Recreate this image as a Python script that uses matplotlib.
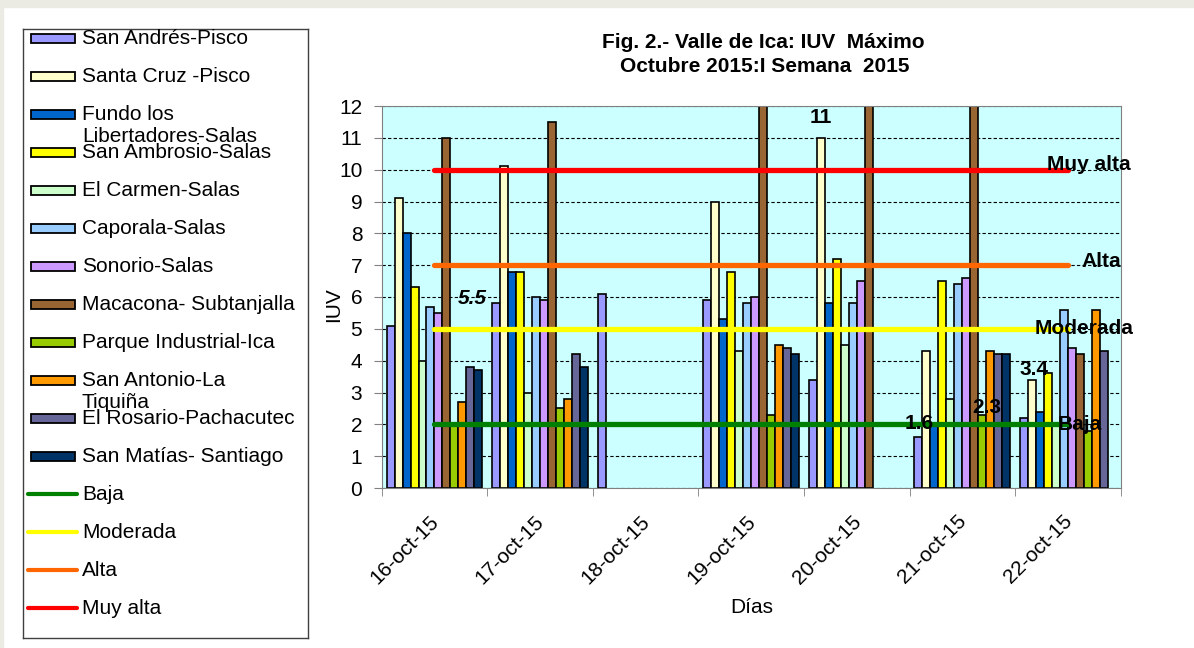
import numpy as np
import matplotlib.pyplot as plt
from matplotlib.patches import Rectangle
from matplotlib.transforms import ScaledTranslation

nan = np.nan

dias = ['16-oct-15', '17-oct-15', '18-oct-15', '19-oct-15', '20-oct-15', '21-oct-15', '22-oct-15']

estaciones = ['San Andrés-Pisco', 'Santa Cruz -Pisco', 'Fundo los\nLibertadores-Salas',
              'San Ambrosio-Salas', 'El Carmen-Salas', 'Caporala-Salas', 'Sonorio-Salas',
              'Macacona- Subtanjalla', 'Parque Industrial-Ica', 'San Antonio-La\nTiquiña',
              'El Rosario-Pachacutec', 'San Matías- Santiago']

san_andres = [5.1, 5.8, 6.1, 5.9, 3.4, 1.6, 2.2]
santa_cruz = [9.1, 10.1, nan, 9.0, 11.0, 4.3, 3.4]
fundo = [8.0, 6.8, nan, 5.3, 5.8, 2.0, 2.4]
san_ambrosio = [6.3, 6.8, nan, 6.8, 7.2, 6.5, 3.6]
el_carmen = [4.0, 3.0, nan, 4.3, 4.5, 2.8, 2.0]
caporala = [5.7, 6.0, nan, 5.8, 5.8, 6.4, 5.6]
sonorio = [5.5, 5.9, nan, 6.0, 6.5, 6.6, 4.4]
macacona = [11.0, 11.5, nan, 13.0, 13.0, 13.0, 4.2]
parque = [2.0, 2.5, nan, 2.3, nan, 2.3, 1.8]
san_antonio = [2.7, 2.8, nan, 4.5, nan, 4.3, 5.6]
el_rosario = [3.8, 4.2, nan, 4.4, nan, 4.2, 4.3]
san_matias = [3.7, 3.8, nan, 4.2, nan, 4.2, nan]

series = [san_andres, santa_cruz, fundo, san_ambrosio, el_carmen, caporala,
          sonorio, macacona, parque, san_antonio, el_rosario, san_matias]
colores = ['#9999FF', '#FFFFCC', '#0066CC', '#FFFF00', '#CCFFCC', '#99CCFF',
           '#CC99FF', '#996633', '#99CC00', '#FF9900', '#666699', '#003366']

# umbrales IUV
niveles = ['Baja', 'Moderada', 'Alta', 'Muy alta']
baja = [2, 2, 2, 2, 2, 2, 2]
moderada = [5, 5, 5, 5, 5, 5, 5]
alta = [7, 7, 7, 7, 7, 7, 7]
muy_alta = [10, 10, 10, 10, 10, 10, 10]
lineas = [baja, moderada, alta, muy_alta]
colores_lin = ['#008000', '#FFFF00', '#FF6600', '#FF0000']
# desplazamiento de la etiqueta respecto al final de la linea (px)
off_lin = [(-10, 0), (-33, 0), (14, 4), (-21, 5)]

# etiquetas de datos: (serie, dia, texto, dx, dy, estilo)
etiquetas = [(6, 0, '5.5', 34, 14, 'italic'), (1, 4, '11', 0, 20, 'normal'),
             (0, 5, '1.6', 1, 14, 'normal'), (8, 5, '2.3', 4, 7, 'normal'),
             (1, 6, '3.4', 2, 10, 'normal')]

plt.rcParams['font.family'] = ['Liberation Sans', 'DejaVu Sans']

W, H = 1194, 648
fig = plt.figure(figsize=(W / 100, H / 100), dpi=100)
fig.patch.set_facecolor('white')
fig.add_artist(Rectangle((0, 1 - 7 / H), 1, 7 / H, transform=fig.transFigure,
                         color='#EBEBE3', zorder=0))
fig.add_artist(Rectangle((0, 0), 3 / W, 1, transform=fig.transFigure,
                         color='#EBEBE3', zorder=0))

ax = fig.add_axes([381.7 / W, 1 - 488 / H, 739 / W, 382 / H])
ax.set_facecolor('#CCFFFF')

x = np.arange(len(dias))
w = 0.0757
for i, (vals, col) in enumerate(zip(series, colores)):
    ax.bar(x + (i - 5.5) * w, vals, w, color=col, edgecolor='black', linewidth=1.2, zorder=2)

for vals, col in zip(lineas, colores_lin):
    ax.plot(x, vals, color=col, linewidth=3.8, solid_capstyle='round', zorder=3)

for nom, vals, (dx, dy) in zip(niveles, lineas, off_lin):
    ax.annotate(nom, (x[-1], vals[-1]), xytext=(dx, dy), textcoords='offset pixels',
                ha='left', va='center', fontsize=15, fontweight='bold', zorder=5,
                annotation_clip=False)

for s, d, txt, dx, dy, est in etiquetas:
    ax.annotate(txt, (x[d] + (s - 5.5) * w, series[s][d]), xytext=(dx, dy),
                textcoords='offset pixels', ha='center', va='center', fontsize=15,
                fontweight='bold', fontstyle=est, zorder=5)

ax.set_xlim(-0.5, 6.5)
ax.set_ylim(0, 12)
ax.set_yticks(range(0, 13))
ax.yaxis.grid(True, linestyle=(0, (3, 2)), color='black', linewidth=0.8)
ax.set_axisbelow(True)
for sp in ax.spines.values():
    sp.set_color('#808080')
ax.tick_params(axis='y', length=6, color='#808080', pad=8, labelsize=15)

ax.set_xticks(x)
ax.set_xticklabels(dias, rotation=45, ha='right', va='top', rotation_mode='anchor', fontsize=15)
ax.tick_params(axis='x', which='major', length=0, pad=17)
ax.set_xticks(np.arange(-0.5, 7, 1), minor=True)
ax.tick_params(axis='x', which='minor', length=6, color='#808080')
for lbl in ax.get_xticklabels():
    lbl.set_transform(lbl.get_transform() + ScaledTranslation(-0.055, 0, fig.dpi_scale_trans))

ax.set_ylabel('IUV', fontsize=15)
ax.yaxis.set_label_coords(-0.0525, 0.479)
ax.set_xlabel('Días', fontsize=15)
ax.xaxis.set_label_coords(0.501, -0.288)

fig.text(763 / W, 1 - 42 / H, 'Fig. 2.- Valle de Ica: IUV  Máximo', ha='center', va='center',
         fontsize=15, fontweight='bold')
fig.text(765 / W, 1 - 67 / H, 'Octubre 2015:I Semana  2015', ha='center', va='center',
         fontsize=15, fontweight='bold')

# leyenda dibujada a mano (filas de alto fijo como en el original)
lx0, ly0, lx1, ly1 = 23, 29, 308, 638
lg = fig.add_axes([lx0 / W, 1 - ly1 / H, (lx1 - lx0) / W, (ly1 - ly0) / H])
lg.set_xlim(0, lx1 - lx0)
lg.set_ylim(ly1 - ly0, 0)
lg.set_xticks([])
lg.set_yticks([])
for sp in lg.spines.values():
    sp.set_color('#404040')
    sp.set_linewidth(1)

nombres = estaciones + niveles
for k, nom in enumerate(nombres):
    yc = 38 + 38 * k - ly0
    if k < len(estaciones):
        lg.add_patch(Rectangle((31 - lx0, yc - 4.5), 44, 9, facecolor=colores[k],
                               edgecolor='black', linewidth=1.3))
    else:
        lg.plot([28 - lx0, 77 - lx0], [yc, yc], color=colores_lin[k - len(estaciones)],
                linewidth=3, solid_capstyle='round')
    partes = nom.split('\n')
    for j, p in enumerate(partes):
        lg.text(82 - lx0, yc + 22 * j, p, ha='left', va='center', fontsize=15)

fig.savefig('out.png', dpi=100)
